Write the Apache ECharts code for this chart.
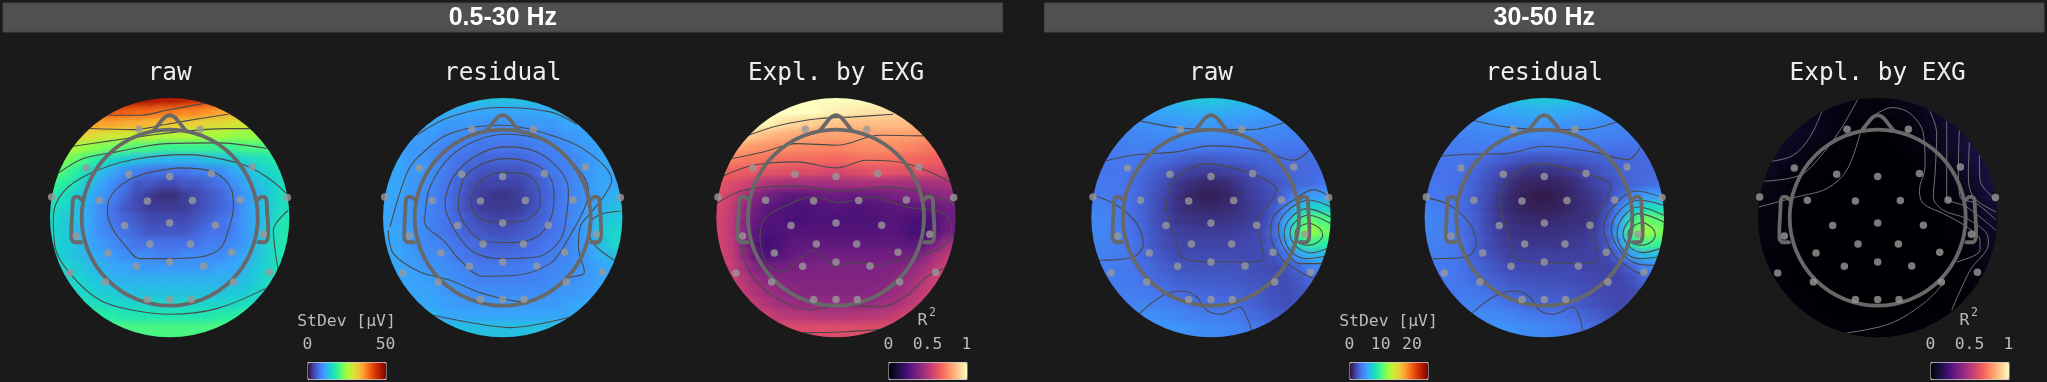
<!DOCTYPE html>
<html><head><meta charset="utf-8">
<style>html,body{margin:0;padding:0;background:#1a1a1a}#c{width:2047px;height:382px}</style>
<script src="https://cdn.jsdelivr.net/npm/echarts@6/dist/echarts.min.js"></script>
</head><body><div id="c"></div>
<script>
const _ = null;
// Sample columns/rows of the scalp frame (1 unit = 1/3 px, disc radius 359)
const sampleX = [-342,-306,-270,-234,-198,-162,-126,-90,-54,-18,18,54,90,126,162,198,234,270,306,342];
const sampleY = sampleX;
const sensorXY = [[-354,-62],[-250,-149],[-92,-265],[92,-265],[248,-152],[353,-60],[-123,-130],[0,-123],[125,-132],[-211,-52],[-67,-50],[68,-51],[211,-53],[-280,55],[-135,24],[0,16],[137,23],[281,50],[-185,106],[-59,79],[62,79],[186,104],[-300,166],[-100,146],[0,133],[102,145],[299,164],[-193,193],[191,193],[-67,246],[0,246],[64,246]];
const headRadius = 264;
const nose = [[-47,-262],[-18,-298],[-8,-305],[0,-307],[8,-305],[18,-298],[47,-262]];
const earL = [[-266,-55],[-274,-62],[-284,-62],[-290,-54],[-292,-20],[-295,40],[-295,62],[-286,74],[-266,74]];
const earR = [[266,-55],[274,-62],[284,-62],[290,-54],[292,-20],[295,30],[294,62],[286,74],[266,74]];

const rawLow = [
[_,_,_,_,_,47,47,47,47,46,46,45,44,43,42,_,_,_,_,_],
[_,_,_,40,40,40,40,39,39,38,38,37,37,36,35,35,34,_,_,_],
[_,_,36,35,35,35,34,34,33,33,32,31,31,30,30,29,29,28,_,_],
[_,31,30,30,29,28,28,27,27,26,26,26,25,25,25,24,24,24,24,_],
[27,26,25,24,23,22,21,20,20,19,19,19,19,19,19,19,20,20,20,20],
[24,23,21,19,17,15,14,13,12.5,12,12,12,12,13,13,14,15,16,17,18],
[22,20,18,15,13,11,9,8,7,7,7,7,8,8,9,11,12,14,15,16],
[19,18,16,13,11,9,7,5,5,4,4,5,5,6,7,9,11,13,14,16],
[17,16,14,12,10,8,6,4,3,2,2,3,4,5,6,8,10,12,14,16],
[16,15,13,11,9,7,5,4,3,3,3,3,4,5,6,7,10,12,14,16],
[15,14,13,11,9,7,6,5,4,4,4,4,5,6,7,8,10,12,14,17],
[15,14,12,11,9,8,7,6,5,5,5,5,6,7,7,8,10,12,15,17],
[15,14,13,11,10,9,8,7,7,7,7,7,7,8,8,9,10,13,15,17],
[15,14,13,12,11,10,9,9,9,8,8,9,9,9,9,10,11,13,15,17],
[15,15,14,13,12,11,11,10,10,10,10,10,10,10,11,11,12,14,15,17],
[16,15,15,14,13,12,12,12,12,12,12,12,12,12,12,12,13,14,16,17],
[_,16,15,15,14,14,13,13,13,13,13,13,13,13,13,14,14,15,16,_],
[_,_,17,16,16,15,15,15,15,15,15,15,15,15,15,15,16,16,_,_],
[_,_,_,19,18,18,17,17,17,17,17,17,17,17,18,18,19,_,_,_],
[_,_,_,_,_,20,20,20,20,20,20,20,20,20,20,_,_,_,_,_]];
const residualLow = [
[_,_,_,_,_,13,13,13,13,13,13,13,13,13,13,_,_,_,_,_],
[_,_,_,12,12,12,11,11,11,11,11,11,11,11,12,12,12,_,_,_],
[_,_,12,11,11,10,10,10,9.5,9.5,9.5,9.5,10,10,10,11,11,12,_,_],
[_,11,11,10,10,9,9,8.5,8,8,8,8,8.5,9,9,10,10,11,11,_],
[11,11,10,10,9,8,8,7.5,7,7,7,7,7.5,8,8,9,10,10,11,11],
[11,11,10,10,9,8,7,6.5,6,6,6,6,6.5,7,8,8,9,10,11,11],
[11,11,10,10,9,7.5,6.5,5.5,4.5,4.5,4.5,4.5,5.5,6.5,7.5,8,9,10,11,11],
[11,11,10,9.5,8.5,7,6,4.5,3.5,3.5,3.5,3.5,4.5,5.5,7,8,9,10,11,11],
[11,11,10,9,8,7,5.5,4,3,2.5,2.5,3,4,5.5,6.5,8,9,10,11,12],
[11,10.5,10,9,8,7,5.5,4,3,2.8,2.8,3,4,5.5,7,8,9,10.5,12,13],
[11,10.5,10,9,8,7,6,5,4,3.5,3.5,4,5,6,7,8,9.5,11,13,14],
[11,11,10,9,8,7,6.5,5.5,5,4.5,4.5,5,5.5,6.5,7,8,9.5,11.5,14,15],
[11,11,10,9,8.5,8,7,6.5,6,5.5,5.5,6,6.5,7,7.5,8,9.5,11,13,15],
[11,11,10,9.5,9,8.5,7.5,7,6.5,6.5,6.5,6.5,7,7.5,8,8.5,9.5,10.5,12,13],
[11,11,10.5,10,9.5,9,8.5,8,7.5,7.5,7.5,7.5,8,8,8.5,9,9.5,10,11,11],
[11,11,11,10.5,10,9.5,9,8.5,8,8,8,8,8,8.5,9,9,9.5,10,11,11],
[_,11,11,11,10.5,10,9.5,9,9,9,9,9,9,9,9.5,10,10,10.5,11,_],
[_,_,11,11,11,10.5,10,10,10,10,10,10,10,10,10,10.5,11,11,_,_],
[_,_,_,12,12,11,11,11,11,11,11,11,11,11,11,11,12,_,_,_],
[_,_,_,_,_,13,13,13,13,13,13,13,13,13,13,_,_,_,_,_]];
const explLow = [
[_,_,_,_,_,1,1,1,1,1,1,1,1,1,.98,_,_,_,_,_],
[_,_,_,1,1,1,1,1,1,.98,.97,.96,.95,.94,.93,.92,.9,_,_,_],
[_,_,1,1,.98,.95,.92,.9,.89,.88,.87,.86,.86,.86,.86,.86,.85,.84,_,_],
[_,.95,.92,.88,.85,.83,.82,.81,.8,.8,.8,.8,.8,.8,.8,.8,.79,.78,.77,_],
[.85,.82,.8,.78,.77,.76,.76,.75,.75,.74,.74,.75,.76,.76,.76,.75,.74,.72,.71,.7],
[.76,.74,.72,.71,.7,.7,.69,.69,.69,.68,.68,.69,.7,.7,.7,.69,.68,.67,.66,.65],
[.68,.66,.65,.64,.63,.62,.61,.6,.6,.58,.58,.6,.61,.62,.62,.62,.61,.6,.6,.58],
[.62,.6,.57,.52,.48,.46,.45,.45,.45,.44,.45,.45,.46,.46,.46,.45,.45,.45,.46,.47],
[.6,.56,.47,.38,.33,.3,.28,.28,.3,.31,.31,.3,.3,.31,.33,.35,.36,.37,.38,.4],
[.58,.53,.42,.33,.28,.26,.24,.24,.25,.26,.26,.25,.25,.26,.27,.28,.28,.28,.3,.33],
[.57,.52,.4,.3,.26,.25,.24,.23,.24,.24,.24,.24,.24,.25,.26,.26,.24,.23,.26,.31],
[.57,.51,.38,.28,.24,.25,.26,.26,.26,.26,.26,.26,.26,.26,.27,.26,.23,.22,.26,.33],
[.57,.52,.38,.26,.22,.24,.28,.29,.29,.29,.29,.29,.29,.29,.29,.29,.27,.28,.35,.45],
[.58,.53,.42,.3,.25,.27,.3,.32,.32,.33,.33,.33,.33,.33,.33,.33,.33,.38,.46,.52],
[.58,.54,.47,.37,.33,.34,.35,.35,.36,.36,.36,.36,.36,.36,.36,.37,.4,.45,.52,.56],
[.6,.56,.5,.44,.4,.38,.37,.37,.37,.37,.37,.37,.37,.37,.38,.4,.45,.5,.55,.58],
[_,.57,.53,.48,.44,.41,.39,.38,.38,.38,.38,.38,.38,.39,.41,.44,.48,.53,.57,_],
[_,_,.55,.52,.48,.45,.43,.42,.42,.42,.42,.42,.42,.43,.45,.48,.52,.55,_,_],
[_,_,_,.58,.55,.52,.5,.5,.49,.49,.49,.49,.5,.5,.52,.55,.58,_,_,_],
[_,_,_,_,_,.6,.6,.6,.6,.6,.6,.6,.6,.6,.6,_,_,_,_,_]];
const rawHigh = [
[_,_,_,_,_,6,6.2,6.5,6.7,6.8,6.8,6.6,6.4,6.1,5.8,_,_,_,_,_],
[_,_,_,5,5.2,5.4,5.6,5.7,5.8,5.9,5.9,5.8,5.7,5.5,5.3,5.1,4.9,_,_,_],
[_,_,4.4,4.6,4.7,4.8,4.9,5,5,5,5,4.9,4.9,4.8,4.7,4.6,4.4,4.3,_,_],
[_,4,4.1,4.2,4.3,4.4,4.4,4.5,4.5,4.5,4.4,4.4,4.3,4.3,4.2,4.2,4.1,4,3.8,_],
[3.6,3.8,3.9,4,4,4,4,3.9,3.8,3.7,3.7,3.7,3.7,3.7,3.7,3.6,3.6,3.6,3.5,3.4],
[3.6,3.7,3.7,3.7,3.5,3.3,3.1,2.9,2.6,2.5,2.6,2.7,2.8,2.9,3,3.1,3.2,3.2,3.3,3.3],
[3.5,3.6,3.6,3.5,3.2,2.8,2.4,1.9,1.6,1.5,1.5,1.6,1.8,2.2,2.6,2.9,3,3.1,3.2,3.3],
[3.6,3.7,3.6,3.4,3,2.5,2,1.3,1,.8,.8,.9,1.3,1.7,2,2.4,2.8,3.1,3.3,3.6],
[3.8,3.8,3.6,3.4,2.9,2.3,1.7,1.1,.7,.5,.5,.7,1.1,1.5,1.8,2.3,3.3,4.3,5,5.2],
[4.1,4,3.8,3.4,2.9,2.3,1.6,1.1,.9,.8,.8,.9,1.1,1.4,1.7,2.6,4.2,6.3,7.5,7.5],
[4.3,4.2,3.9,3.4,2.9,2.3,1.7,1.3,1.2,1.1,1.1,1.2,1.3,1.5,1.8,3,5.5,9,11,10],
[4.3,4.2,3.9,3.5,3,2.4,1.9,1.6,1.5,1.5,1.5,1.5,1.6,1.7,2,3.2,6,10,12.5,11],
[4.2,4.1,3.9,3.6,3.1,2.5,2,1.8,1.7,1.7,1.7,1.7,1.8,1.9,2.1,2.8,5,8,9.5,9],
[4,4,3.8,3.6,3.1,2.7,2.3,2,2,2,2,2,2,2,2.1,2.3,3.5,5,6,6],
[3.9,3.9,3.8,3.6,3.3,3,2.7,2.4,2.3,2.3,2.3,2.3,2.3,2.2,2.1,2,2.3,3,4,4.2],
[3.8,3.8,3.8,3.7,3.5,3.2,3,2.8,2.7,2.6,2.6,2.6,2.5,2.4,2.3,2.1,2.1,2.5,3,3.2],
[_,3.8,3.8,3.9,3.8,3.6,3.4,3.2,3.1,3,2.9,2.9,2.8,2.6,2.4,2.2,2.1,2.3,2.6,_],
[_,_,3.9,4.1,4.2,4.1,3.9,3.7,3.5,3.4,3.3,3.3,3.2,2.9,2.6,2.3,2.1,2.4,_,_],
[_,_,_,4.4,4.6,4.6,4.5,4.3,4.1,3.9,3.9,3.8,3.6,3.3,3,2.8,2.6,_,_,_],
[_,_,_,_,_,4.8,4.9,4.8,4.6,4.5,4.4,4.3,4.1,3.8,3.5,_,_,_,_,_]];
const residualHigh = [
[_,_,_,_,_,5.9,6.1,6.4,6.6,6.8,6.8,6.7,6.4,6.1,5.8,_,_,_,_,_],
[_,_,_,4.9,5.1,5.3,5.5,5.6,5.7,5.8,5.8,5.7,5.6,5.4,5.2,5,4.8,_,_,_],
[_,_,4.3,4.4,4.6,4.7,4.8,4.9,5,5,4.9,4.9,4.8,4.7,4.6,4.5,4.3,4.2,_,_],
[_,3.9,4,4.1,4.2,4.3,4.3,4.4,4.4,4.4,4.3,4.3,4.2,4.2,4.1,4.1,4,3.9,3.7,_],
[3.5,3.7,3.8,3.9,3.9,3.9,3.8,3.7,3.6,3.5,3.5,3.5,3.5,3.5,3.5,3.5,3.5,3.5,3.4,3.3],
[3.5,3.6,3.6,3.5,3.3,3.1,2.8,2.5,2.3,2.2,2.2,2.3,2.4,2.6,2.8,2.9,3,3.1,3.2,3.2],
[3.4,3.5,3.5,3.3,3,2.5,2,1.5,1.2,1.1,1.1,1.2,1.4,1.8,2.2,2.6,2.9,3,3.1,3.2],
[3.5,3.6,3.5,3.2,2.8,2.2,1.6,1,.7,.6,.6,.7,.9,1.3,1.7,2.1,2.6,3,3.2,3.4],
[3.7,3.7,3.5,3.2,2.6,2,1.3,.8,.5,.3,.3,.5,.8,1.1,1.4,2,3,4.2,5,5.2],
[4,3.9,3.7,3.2,2.6,1.9,1.2,.8,.6,.5,.5,.6,.8,1,1.3,2.2,4,6.2,7.8,8],
[4.2,4.1,3.8,3.3,2.7,1.9,1.3,1,.9,.8,.8,.9,1,1.1,1.4,2.6,5.3,9,11.3,10.5],
[4.2,4.1,3.8,3.3,2.7,2,1.5,1.2,1.1,1.1,1.1,1.1,1.2,1.3,1.6,2.8,5.8,10.3,12.8,11.5],
[4.1,4,3.8,3.4,2.8,2.1,1.6,1.4,1.3,1.3,1.3,1.3,1.4,1.5,1.7,2.4,4.8,8.3,10,9.5],
[3.9,3.9,3.7,3.4,2.8,2.3,1.9,1.6,1.6,1.6,1.6,1.6,1.6,1.6,1.7,1.9,3.2,5,6.2,6.3],
[3.8,3.8,3.7,3.4,3,2.7,2.3,2,1.9,1.9,1.9,1.9,1.9,1.8,1.7,1.7,2,2.9,4,4.3],
[3.7,3.7,3.7,3.5,3.2,2.9,2.7,2.4,2.3,2.2,2.2,2.2,2.1,2,1.9,1.8,1.8,2.2,2.9,3],
[_,3.7,3.7,3.8,3.6,3.4,3.1,2.9,2.7,2.6,2.5,2.5,2.4,2.2,2,1.9,1.8,2,2.4,_],
[_,_,3.8,4,4.1,3.9,3.7,3.4,3.2,3,2.9,2.9,2.8,2.5,2.2,2,1.8,2.1,_,_],
[_,_,_,4.3,4.5,4.5,4.4,4.2,3.9,3.7,3.7,3.6,3.3,3,2.7,2.4,2.2,_,_,_],
[_,_,_,_,_,4.7,4.8,4.7,4.5,4.4,4.3,4.1,3.9,3.5,3.2,_,_,_,_,_]];
const explHigh = [
[_,_,_,_,_,.04,.03,.03,.02,.02,.02,.03,.04,.05,.06,_,_,_,_,_],
[_,_,_,.05,.05,.04,.03,.02,.02,.02,.02,.02,.03,.04,.06,.07,.08,_,_,_],
[_,_,.06,.06,.05,.04,.03,.02,.01,.01,.01,.01,.02,.03,.05,.07,.09,.1,_,_],
[_,.07,.07,.06,.05,.04,.03,.02,.01,0,0,.01,.01,.02,.04,.06,.08,.1,.11,_],
[.07,.07,.06,.05,.03,.02,.01,.01,0,0,0,0,.01,.02,.04,.06,.08,.1,.12,.13],
[.06,.06,.05,.03,.02,.01,.01,0,0,0,0,0,0,.01,.02,.04,.06,.09,.11,.13],
[.05,.05,.03,.02,.01,.01,0,0,0,0,0,0,0,0,.01,.02,.04,.07,.1,.12],
[.04,.03,.02,.01,.01,0,0,0,0,0,0,0,0,0,0,.01,.03,.05,.08,.11],
[.03,.03,.02,.01,0,0,0,0,0,0,0,0,0,0,0,.01,.02,.04,.07,.1],
[.03,.02,.01,.01,0,0,0,0,0,0,0,0,0,0,0,.01,.01,.03,.05,.08],
[.02,.02,.01,0,0,0,0,0,0,0,0,0,0,0,0,0,.01,.02,.04,.07],
[.02,.02,.01,0,0,0,0,0,0,0,0,0,0,0,0,0,.01,.01,.03,.06],
[.02,.02,.01,0,0,0,0,0,0,0,0,0,0,0,0,0,0,.01,.03,.05],
[.02,.01,.01,0,0,0,0,0,0,0,0,0,0,0,0,0,0,.01,.02,.04],
[.02,.01,.01,0,0,0,0,0,0,0,0,0,0,0,0,0,0,.01,.02,.04],
[.02,.01,.01,0,0,0,0,0,0,0,0,0,0,0,0,0,0,.01,.02,.03],
[_,.01,.01,.01,0,0,0,0,0,0,0,0,0,0,0,0,.01,.01,.02,_],
[_,_,.01,.01,.01,0,0,0,0,0,0,0,0,0,0,0,.01,.01,_,_],
[_,_,_,.01,.01,.01,0,0,0,0,0,0,0,0,.01,.01,.01,_,_,_],
[_,_,_,_,_,.01,.01,.01,.01,.01,.01,.01,.01,.01,.01,_,_,_,_,_]];

// Contours, in reading coordinates (origin per map below)
const contourOriginX = [509,458,468,453,494,503];
const contourOriginY = 652;
const contoursRawLow = [
[[325,345],[420,345],[500,330],[620,308]],
[[270,385],[400,388],[500,372],[600,355],[685,342]],
[[220,438],[330,422],[450,405],[560,392],[680,385],[748,385]],
[[178,517],[250,475],[350,455],[500,430],[650,428],[800,445]],
[[860,580],[800,530],[720,490],[560,463],[400,478],[270,520],[190,575],[160,650],[165,740],[210,820],[300,900],[400,930],[510,942],[650,925],[795,865]],
[[865,630],[820,690],[825,750],[835,810]],
[[535,503],[640,515],[695,570],[700,620],[685,690],[660,745],[600,770],[500,775],[420,775],[375,735],[335,680],[322,630],[345,570],[420,525],[535,503]]];
const contoursResidualLow = [
[[200,405],[300,350],[450,322],[600,335],[680,372]],
[[120,680],[170,520],[205,470],[300,400],[450,375],[620,410],[720,460],[785,540],[760,590],[720,640],[690,680],[685,740],[703,815],[650,835],[530,905],[400,880],[300,840],[210,815],[130,760],[115,690]],
[[225,650],[240,560],[300,470],[380,420],[470,402],[590,425],[670,490],[715,570],[705,620],[640,740],[600,790],[500,825],[400,828],[330,780],[280,720],[230,680],[222,650]],
[[285,600],[310,530],[380,465],[470,440],[560,455],[630,510],[655,570],[650,640],[630,720],[560,770],[450,775],[370,755],[320,700],[290,640],[285,600]],
[[325,600],[345,530],[400,490],[470,475],[550,490],[600,530],[612,590],[600,660],[560,710],[480,727],[400,722],[350,680],[325,620],[325,600]],
[[362,600],[385,550],[450,517],[520,520],[565,560],[570,610],[545,650],[500,665],[420,665],[375,640],[362,600]],
[[812,632],[745,645],[715,680],[730,730],[793,780]],
[[250,945],[350,965],[480,982],[660,950]]];
const contoursExplLow = [
[[205,405],[300,375],[420,355],[520,350],[640,342]],
[[155,475],[250,455],[350,430],[470,435],[600,405],[730,407]],
[[130,527],[220,495],[350,485],[470,503],[560,480],[680,490],[810,545]],
[[110,610],[190,570],[350,557],[480,572],[620,560],[720,575],[825,610]],
[[240,720],[250,660],[300,625],[400,590],[480,607],[570,590],[680,620],[780,635],[815,680],[800,730],[730,765],[650,780],[590,795],[530,785],[470,797],[430,770],[400,750],[360,775],[310,815],[260,790],[240,720]],
[[185,720],[200,800],[270,880],[390,928],[480,915],[600,920],[680,885],[740,830],[790,805]],
[[370,997],[480,995],[600,988]]];
const contoursRawHigh = [
[[240,362],[350,382],[450,388],[570,388],[670,368]],
[[135,482],[220,465],[350,455],[450,437],[600,450],[700,480],[748,450]],
[[450,490],[560,515],[650,570],[620,620],[590,665],[600,720],[612,775],[570,785],[450,785],[370,775],[345,710],[320,620],[340,540],[400,500],[450,490]],
[[810,590],[760,568],[700,600],[640,650],[632,700],[660,770],[720,815],[760,835]],
[[812,620],[750,600],[690,625],[655,680],[670,740],[720,790],[790,790]],
[[812,650],[740,625],[690,655],[672,700],[690,750],[740,775],[795,768]],
[[812,670],[745,645],[700,670],[690,700],[710,740],[755,758],[800,745]],
[[750,668],[780,685],[788,705],[770,728],[740,735],[715,725],[705,700],[720,678],[750,668]],
[[100,585],[170,615],[230,670],[250,730],[220,770],[115,780]],
[[238,940],[310,885],[370,872],[410,890],[440,930],[480,942],[540,920],[560,950],[575,990]]];
const contoursResidualHigh = [
[[278,360],[380,380],[490,388],[610,388],[710,365]],
[[185,468],[260,462],[380,460],[490,438],[640,455],[745,478],[782,442]],
[[490,490],[600,515],[695,560],[660,630],[630,665],[650,740],[655,780],[610,788],[490,787],[410,775],[385,700],[360,600],[385,540],[440,500],[490,490]],
[[845,590],[770,572],[700,620],[672,680],[700,760],[760,810],[800,825]],
[[850,615],[780,600],[720,630],[695,690],[720,750],[770,790],[825,795]],
[[852,645],[775,620],[730,650],[712,700],[735,755],[780,775],[835,770]],
[[852,665],[775,640],[745,665],[730,700],[750,740],[790,757],[840,745]],
[[790,665],[820,685],[827,705],[810,728],[780,735],[755,725],[745,700],[760,678],[790,665]],
[[140,592],[210,615],[270,670],[290,730],[260,770],[160,775]],
[[278,937],[350,885],[410,872],[450,890],[480,930],[520,942],[580,920],[600,950],[608,990]],
[[750,905],[780,865]]];
const contoursExplHigh = [
[[335,335],[300,410],[250,465],[185,483]],
[[442,300],[390,390],[330,470],[270,525],[160,543]],
[[500,340],[545,322],[600,340],[640,400],[645,500],[628,570],[640,610],[700,640],[770,680],[810,720],[810,750],[740,785]],
[[660,333],[680,400],[675,520],[670,590],[700,630],[770,655],[830,700],[835,730],[780,810],[725,930]],
[[710,362],[710,500],[710,590],[770,620],[858,690]],
[[748,390],[745,500],[750,590],[800,610],[858,660]],
[[778,425],[775,520],[790,590],[858,635]],
[[808,465],[810,540],[860,600]],
[[147,620],[260,590],[350,565],[410,510],[450,400]],
[[410,998],[540,970],[640,910],[700,850]]];

const panelTitles = ['raw','residual','Expl. by EXG','raw','residual','Expl. by EXG'];
const bandTitles = ['0.5-30 Hz','30-50 Hz'];
const turbo = ['#30123b','#4145ab','#4675ed','#39a2fc','#1bcfd4','#24eca6','#61fc6c','#a4fc3b','#d1e834','#f3c63a','#fe9b2d','#f36315','#d93806','#b11901','#7a0402'];
const magma = ['#000004','#180f3d','#440f76','#721f81','#9e2f7f','#cd4071','#f1605d','#fd9668','#feca8d','#fcfdbf'];
const barCaptions = ['StDev [µV]','R2','StDev [µV]','R2'];
const barTicks = [[0,50],[0,0.5,1],[0,10,20],[0,0.5,1]];
const barMax = [50,1,25,1];

const fields = [rawLow,residualLow,explLow,rawHigh,residualHigh,explHigh];
const contours = [contoursRawLow,contoursResidualLow,contoursExplLow,contoursRawHigh,contoursResidualHigh,contoursExplHigh];
const mapCx = [169.7,502.7,836,1211,1544.3,1877.7];
const mapCy = 217.6, mapR = 119.7;
const barLeft = [307.5,888.5,1349.5,1930.5], barWidth = 78, barTop = 362, barHeight = 18;
const barOfMap = [0,0,1,2,2,3];
const mono = '"DejaVu Sans Mono", monospace';
const cell = sampleX[1]-sampleX[0];

const series = [], grid = [], xAxis = [], yAxis = [], visualMap = [], graphicEls = [];
const fieldSeriesByBar = [[],[],[],[]];

fields.forEach((rows, m) => {
  grid.push({left:mapCx[m]-mapR, top:mapCy-mapR, width:2*mapR, height:2*mapR});
  xAxis.push({type:'value',gridIndex:m,min:-359,max:359,show:false});
  yAxis.push({type:'value',gridIndex:m,min:-359,max:359,inverse:true,show:false});
  const cells = [];
  rows.forEach((row,j)=>row.forEach((v,i)=>{ if(v!==null) cells.push([sampleX[i],sampleY[j],v]); }));
  fieldSeriesByBar[barOfMap[m]].push(series.length, series.length+1);
  // solid cell
  series.push({type:'custom',xAxisIndex:m,yAxisIndex:m,z:1,silent:true,animation:false,clip:false,
    encode:{x:0,y:1},data:cells,renderItem(p,api){
      const c=api.coord([api.value(0),api.value(1)]), s=api.size([cell,cell]);
      return {type:'rect',shape:{x:c[0]-s[0]/2-.5,y:c[1]-s[1]/2-.5,width:s[0]+1,height:s[1]+1},style:{fill:api.visual('color')}};
    }});
  // soft edge of the same cell, so neighbouring cells blend as in the picture
  series.push({type:'custom',xAxisIndex:m,yAxisIndex:m,z:1,silent:true,animation:false,clip:false,
    encode:{x:0,y:1},data:cells,renderItem(p,api){
      const c=api.coord([api.value(0),api.value(1)]), s=api.size([cell,cell]), col=api.visual('color');
      const R=s[0]*1.25;
      return {type:'circle',shape:{cx:c[0],cy:c[1],r:R},style:{fill:new echarts.graphic.RadialGradient(.5,.5,.5,[
        {offset:0,color:col},{offset:.3,color:col},{offset:1,color:echarts.color.modifyAlpha(col,0)}])}};
    }});
  const lineColor = m===5 ? '#7d7d7d' : '#4a4a4a';
  contours[m].forEach(c=>{
    series.push({type:'line',xAxisIndex:m,yAxisIndex:m,z:1.5,silent:true,animation:false,showSymbol:false,symbol:'none',smooth:.35,clip:false,
      lineStyle:{color:lineColor,width:m===5?.9:1.1},
      data:c.map(p=>[p[0]-contourOriginX[m],p[1]-contourOriginY])});
  });
  // everything outside the scalp disc is page background
  series.push({type:'custom',xAxisIndex:m,yAxisIndex:m,z:2,silent:true,animation:false,clip:false,
    encode:{x:0,y:1},data:[[0,0]],renderItem(p,api){
      const c=api.coord([0,0]), r=api.size([359,359])[0], o=r*1.13;
      const d=`M${c[0]-o} ${c[1]-o}L${c[0]+o} ${c[1]-o}L${c[0]+o} ${c[1]+o}L${c[0]-o} ${c[1]+o}Z`+
        `M${c[0]-r} ${c[1]}A${r} ${r} 0 0 0 ${c[0]+r} ${c[1]}A${r} ${r} 0 0 0 ${c[0]-r} ${c[1]}Z`;
      return {type:'path',shape:{pathData:d},style:{fill:'#1a1a1a'}};
    }});
  series.push({type:'custom',xAxisIndex:m,yAxisIndex:m,z:4,silent:true,animation:false,clip:false,
    encode:{x:0,y:1},data:[[0,0,headRadius]],renderItem(p,api){
      const c=api.coord([0,0]), r=api.size([api.value(2),api.value(2)])[0];
      return {type:'circle',shape:{cx:c[0],cy:c[1],r},style:{fill:'none',stroke:'#686868',lineWidth:3.8}};
    }});
  [nose,earL,earR].forEach(d=>series.push({type:'line',xAxisIndex:m,yAxisIndex:m,z:4,silent:true,animation:false,showSymbol:false,symbol:'none',smooth:.25,clip:false,
    lineStyle:{color:'#686868',width:3.8,cap:'round',join:'round'},data:d}));
  series.push({type:'scatter',xAxisIndex:m,yAxisIndex:m,z:5,silent:true,animation:false,clip:false,symbol:'circle',symbolSize:7.5,
    itemStyle:{color:'#999999'},data:sensorXY});
  graphicEls.push({type:'text',z:10,x:mapCx[m],y:74,silent:true,style:{text:panelTitles[m],fill:'#eeeeee',font:`24.4px ${mono}`,align:'center',verticalAlign:'middle'}});
});

barLeft.forEach((l,b)=>{
  const palette = b%2===0?turbo:magma;
  visualMap.push({type:'continuous',show:true,left:l,top:barTop,orient:'horizontal',itemWidth:barHeight-1,itemHeight:barWidth,
    min:0,max:barMax[b],dimension:2,seriesIndex:fieldSeriesByBar[b],inRange:{color:palette},calculable:false,showLabel:false,text:null,
    padding:0,borderColor:'#cccccc',borderWidth:1,hoverLink:false,z:10});
  const g=grid.length;
  grid.push({left:l,width:barWidth,top:barTop,height:barHeight});
  xAxis.push({type:'value',gridIndex:g,position:'top',min:0,max:barMax[b],z:10,axisLine:{show:false},axisTick:{show:false},splitLine:{show:false},
    axisLabel:{show:true,customValues:barTicks[b],margin:9,color:'#bbbbbb',fontFamily:mono,fontSize:16.4}});
  yAxis.push({type:'value',gridIndex:g,min:0,max:1,show:false});
  const cx=l+barWidth/2;
  if(barCaptions[b]==='R2'){
    graphicEls.push({type:'text',z:10,x:cx-5,y:321,silent:true,style:{text:'R',fill:'#bbbbbb',font:`16.4px ${mono}`,align:'center',verticalAlign:'middle'}});
    graphicEls.push({type:'text',z:10,x:cx+5,y:313,silent:true,style:{text:'2',fill:'#bbbbbb',font:`11.5px ${mono}`,align:'center',verticalAlign:'middle'}});
  } else {
    graphicEls.push({type:'text',z:10,x:cx,y:321.5,silent:true,style:{text:barCaptions[b],fill:'#bbbbbb',font:`16.4px ${mono}`,align:'center',verticalAlign:'middle'}});
  }
});

[[3,999.7],[1044.5,999.5]].forEach((b,i)=>{
  graphicEls.push({type:'rect',z:9,silent:true,shape:{x:b[0],y:3,width:b[1],height:29},style:{fill:'#505050',stroke:'#444444',lineWidth:1}});
  graphicEls.push({type:'text',z:10,silent:true,x:b[0]+b[1]/2,y:18,style:{text:bandTitles[i],fill:'#ffffff',font:'bold 25px "Liberation Sans", Arial, sans-serif',align:'center',verticalAlign:'middle'}});
});

const chart = echarts.init(document.getElementById('c'),null,{renderer:'canvas'});
chart.setOption({backgroundColor:'#1a1a1a',animation:false,grid,xAxis,yAxis,visualMap,series,graphic:{elements:graphicEls},tooltip:{show:false}});
</script></body></html>
